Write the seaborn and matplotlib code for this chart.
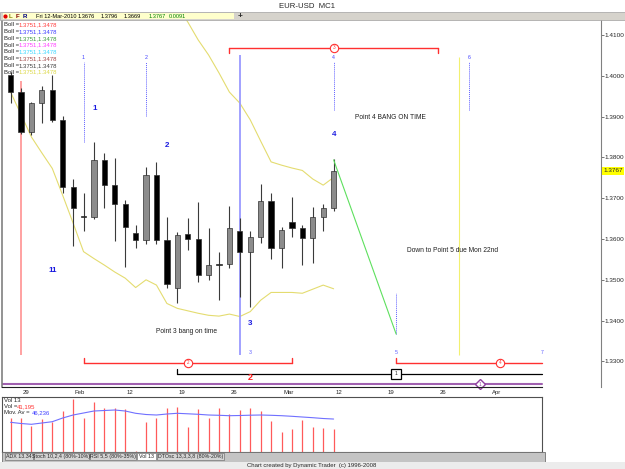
import numpy as np
import pandas as pd
import matplotlib
matplotlib.use("Agg")
import matplotlib.pyplot as plt
import seaborn as sns

sns.set_style("white")
plt.rcParams['font.family'] = ['Liberation Sans Narrow', 'Liberation Sans', 'DejaVu Sans']

W, H = 625, 469

# EUR-USD daily bars, Thu 28-Jan-2010 .. Fri 12-Mar-2010 (bar index 0..31)
opens = [1.4002, 1.3961, 1.3863, 1.3933, 1.3965, 1.3892, 1.3727, 1.3655, 1.3655, 1.3794,
         1.3732, 1.3687, 1.3614, 1.3598, 1.3757, 1.3598, 1.3481, 1.3612, 1.3600, 1.3512,
         1.3537, 1.3538, 1.3620, 1.3567, 1.3606, 1.3693, 1.3577, 1.3641, 1.3628, 1.3602,
         1.3655, 1.3676]
highs = [1.4010, 1.3970, 1.3937, 1.3975, 1.4002, 1.3902, 1.3746, 1.3713, 1.3838, 1.3810,
         1.3799, 1.3696, 1.3634, 1.3777, 1.3788, 1.3655, 1.3616, 1.3651, 1.3691, 1.3626,
         1.3569, 1.3681, 1.3652, 1.3620, 1.3735, 1.3712, 1.3630, 1.3704, 1.3634, 1.3678,
         1.3686, 1.3796]
lows = [1.3933, 1.3857, 1.3855, 1.3885, 1.3886, 1.3713, 1.3584, 1.3620, 1.3648, 1.3675,
        1.3595, 1.3531, 1.3577, 1.3587, 1.3587, 1.3481, 1.3444, 1.3573, 1.3495, 1.3500,
        1.3450, 1.3528, 1.3459, 1.3434, 1.3591, 1.3550, 1.3528, 1.3604, 1.3536, 1.3542,
        1.3620, 1.3669]
closes = [1.3960, 1.3863, 1.3933, 1.3965, 1.3892, 1.3727, 1.3677, 1.3655, 1.3794, 1.3733,
          1.3687, 1.3630, 1.3598, 1.3757, 1.3598, 1.3490, 1.3610, 1.3600, 1.3512, 1.3536,
          1.3538, 1.3626, 1.3567, 1.3606, 1.3693, 1.3577, 1.3622, 1.3628, 1.3602, 1.3655,
          1.3675, 1.3767]

nan = np.nan
boll_upper = [nan] * 15 + [1.4200, 1.4170, 1.4132, 1.4088, 1.4051, 1.4007, 1.3960, 1.3933,
                           1.3892, 1.3840, 1.3789, 1.3781, 1.3774, 1.3768, 1.3747, 1.3732, 1.3751]
boll_lower = [1.3960, 1.3905, 1.3850, 1.3811, 1.3773, 1.3707, 1.3639, 1.3569, 1.3552, 1.3536,
              1.3519, 1.3504, 1.3481, 1.3500, 1.3487, 1.3442, 1.3430, 1.3424, 1.3418, 1.3413,
              1.3411, 1.3416, 1.3410, 1.3422, 1.3450, 1.3469, 1.3469, 1.3469, 1.3467, 1.3477,
              1.3487, 1.3478]

volume = [46930, 46930, 42770, 46250, 44850, 50570, 56650, 46930, 55240, 51810,
          52130, 51290, 29800, 44850, 46620, 51810, 52650, 41940, 51450, 46930,
          51810, 48700, 50930, 51810, 50410, 45370, 39650, 41060, 45730, 41940,
          41420, 41195]
vol_ma = [44540, 43910, 43500, 44170, 44850, 46770, 48330, 49370, 50410, 50670,
          50930, 50410, 49220, 48590, 48330, 48850, 49220, 48960, 48700, 48330,
          48180, 47970, 48070, 48230, 48330, 48180, 47970, 47660, 47290, 46930,
          46510, 46236]

# time axis: Friday bars
fri_idx = [1, 6, 11, 16, 21, 26, 31, 36, 41, 46]
fri_lab = ["29", "Feb", "12", "19", "26", "Mar", "12", "19", "26", "Apr"]
price_ticks = [1.33, 1.34, 1.35, 1.36, 1.37, 1.38, 1.39, 1.40, 1.41]

# annotations (bar index / price)
pink_bar, blue_bar, yellow_bar = 1, 22, 43
dotted_bars = [7, 13, 31, 44]
dotted_bottom = [1.3838, 1.3902, 1.3916, 1.3916]
dotted_top_labels = ["1", "2", "4", "6"]
low_labels = [(23, "3"), (37, "5"), (51, "7")]
dot5_bar, dot5_range = 37, (1.3367, 1.3468)
big_labels = [(8.1, 1.3921, "1"), (15.0, 1.3828, "2"), (23.0, 1.3394, "3"),
              (31.0, 1.3857, "4"), (4.0, 1.3524, "11")]
green_from, green_to = (31, 1.3794), (37, 1.3367)
notes = [(33.05, 1.3897, "Point 4 BANG ON TIME"),
         (38.0, 1.3571, "Down to Point 5 due Mon 22nd"),
         (14.0, 1.3373, "Point 3 bang on time")]
top_cycle = (21, 41, 31, "3")
low_cycle = (7, 27, 17, "2")
right_cycle = (37, 51, 47, "4")
black_start, black_box = 16, 37
purple_diamond = 45
axis_end = 51

df = pd.DataFrame({'open': opens, 'high': highs, 'low': lows, 'close': closes,
                   'upper': boll_upper, 'lower': boll_lower,
                   'vol': volume, 'vol_ma': vol_ma})
df['bar'] = np.arange(len(df))

fig = plt.figure(figsize=(W / 100, H / 100), dpi=100)
fig.patch.set_facecolor('white')


def rect(x0, y0, x1, y1):
    return [x0 / W, 1 - y1 / H, (x1 - x0) / W, (y1 - y0) / H]


ax = fig.add_axes(rect(2, 20, 601, 387))
axv = fig.add_axes(rect(2, 397, 542, 452))
ov = fig.add_axes([0, 0, 1, 1])
ov.set_zorder(5)
ov.patch.set_visible(False)
ov.set_xlim(0, W)
ov.set_ylim(H, 0)
ov.axis('off')


def fy(py):
    # pixel row -> main axes fraction
    return (387 - py) / 367


# ---------------- price panel ----------------
ax.set_xlim(-0.825, 56.66)
ax.set_ylim(1.323725, 1.413676)

up = df['close'] > df['open'] + 0.0001
ax.vlines(df['bar'], df['low'], df['high'], color='#3a3a3a', lw=0.8, zorder=3)
body_lo = np.minimum(df['open'], df['close'])
body_h = np.maximum((df['close'] - df['open']).abs(), 0.00012)
ax.bar(df['bar'], body_h, bottom=body_lo, width=0.5,
       color=np.where(up, '#8c8c8c', 'black'), edgecolor='#303030', lw=0.5, zorder=4)

sns.lineplot(data=df, x='bar', y='upper', ax=ax, color='#e4dc70', lw=0.8, legend=False, zorder=2)
sns.lineplot(data=df, x='bar', y='lower', ax=ax, color='#e4dc70', lw=0.8, legend=False, zorder=2)

bot = ax.get_ylim()[0] + (387 - 355) / 4080
ax.vlines(pink_bar, bot, 1.3987, color='#ff9a9a', lw=1.3, zorder=2.5)
ax.vlines(blue_bar, bot, 1.4051, color='#9a9aff', lw=1.3, zorder=2.5)
ax.vlines(yellow_bar, bot, 1.4046, color='#f2f070', lw=0.8, zorder=2.5)
ax.vlines(dotted_bars, dotted_bottom, 1.4034, color='#6060ff', lw=0.7, ls=(0, (1, 1)), zorder=2.5)
ax.vlines(dot5_bar, dot5_range[0], dot5_range[1], color='#6060ff', lw=0.7, ls=(0, (1, 1)), zorder=2.5)
for b, lab in zip(dotted_bars, dotted_top_labels):
    ax.text(b, 1.4044, lab, color='#4040ff', fontsize=3.8, ha='center', va='center')
for b, lab in low_labels:
    ax.text(b, 1.3323, lab, color='#6060ff', fontsize=3.8, ha='center', va='center')
for bx, by, lab in big_labels:
    ax.text(bx, by, lab, color='#1a1ae0', fontsize=5.8, fontweight='bold', ha='center', va='center')
ax.plot([green_from[0], green_to[0]], [green_from[1], green_to[1]], color='#5ee05e', lw=0.8, zorder=5)
for nx, ny, s in notes:
    ax.text(nx, ny, s, fontsize=4.8, color='#202020', ha='left', va='center')

tr = ax.get_xaxis_transform()


def cycle(c, py, tick_dir):
    x0, x1, xm, lab = c
    ax.plot([x0, x1], [fy(py), fy(py)], transform=tr, color='#ff3030', lw=1.0, clip_on=False)
    ax.plot([x0, x0], [fy(py), fy(py + 5 * tick_dir)], transform=tr, color='#ff3030', lw=1.0)
    if x1 < axis_end:
        ax.plot([x1, x1], [fy(py), fy(py + 5 * tick_dir)], transform=tr, color='#ff3030', lw=1.0)
    ax.plot([xm], [fy(py)], transform=tr, marker='o', ms=6, mfc='white', mec='#ff3030', mew=0.8)
    ax.text(xm, fy(py), lab, transform=tr, fontsize=3.3, color='#ff3030', ha='center', va='center')


cycle(top_cycle, 47.5, 1)
cycle(low_cycle, 362.5, -1)
cycle(right_cycle, 362.5, -1)

ax.plot([black_start, axis_end], [fy(373.5), fy(373.5)], transform=tr, color='black', lw=0.9)
ax.plot([black_start, black_start], [fy(373.5), fy(368.5)], transform=tr, color='black', lw=0.9)
ax.plot([black_box], [fy(373.5)], transform=tr, marker='s', ms=6.5, mfc='white', mec='black', mew=0.9)
ax.text(black_box, fy(373.5), "1", transform=tr, fontsize=3.6, ha='center', va='center')
ax.text(23.0, fy(377), "2", transform=tr, fontsize=6.5, fontweight='bold', color='#ff2020',
        ha='center', va='center')
ax.plot([-0.825, axis_end], [fy(384), fy(384)], transform=tr, color='#a060b0', lw=1.5)
ax.plot([purple_diamond], [fy(384)], transform=tr, marker='D', ms=5.5, mfc='white',
        mec='#9040a0', mew=1.0, clip_on=False)
ax.text(purple_diamond, fy(384), "1", transform=tr, fontsize=3.4, color='#9040a0',
        ha='center', va='center')

ax.yaxis.tick_right()
ax.set_yticks(price_ticks)
ax.set_yticklabels([f"{v:.4f}" for v in price_ticks])
ax.tick_params(axis='y', length=2, width=0.5, pad=0.6, labelsize=4.6, color='#404040')
ax.set_xticks(fri_idx)
ax.tick_params(axis='x', direction='out', length=3, width=0.5, labelbottom=False, color='#404040')
for b, lab in zip(fri_idx, fri_lab):
    ax.text(b + 0.15, fy(392.5), lab, transform=tr, fontsize=4.3, ha='left', va='center',
            clip_on=False)
ax.set_xlabel('')
ax.set_ylabel('')
ax.spines['top'].set_visible(False)
ax.spines['left'].set_color('#808080')
ax.spines['left'].set_linewidth(1.2)
ax.spines['right'].set_color('#808080')
ax.spines['right'].set_linewidth(0.8)
ax.spines['bottom'].set_color('#202020')
ax.spines['bottom'].set_linewidth(0.8)
ax.spines['bottom'].set_bounds(-0.825, axis_end)
ax.text(1.004, closes[-1], f"{closes[-1]:.4f}", transform=ax.get_yaxis_transform(),
        fontsize=4.6, ha='left', va='center', clip_on=False,
        bbox=dict(boxstyle='square,pad=0.2', fc='#ffff00', ec='none'))

# ---------------- volume panel ----------------
axv.set_xlim(-0.825, axis_end)
axv.set_ylim(29100, 57690)
axv.vlines(df['bar'], 29100, df['vol'], color='#ff5a5a', lw=0.9)
sns.lineplot(data=df, x='bar', y='vol_ma', ax=axv, color='#7070ff', lw=0.8, legend=False)
axv.set_xticks([])
axv.set_yticks([])
axv.set_xlabel('')
axv.set_ylabel('')
for s in axv.spines.values():
    s.set_color('#505050')
    s.set_linewidth(0.8)

# ---------------- window chrome ----------------
ov.text(307, 7, "EUR-USD  MC1", fontsize=5.6, ha='center', va='center')
ov.add_patch(plt.Rectangle((0, 12.5), W, 7.5, fc='#d6d3cc', ec='#a0a0a0', lw=0.5))
ov.add_patch(plt.Rectangle((2.5, 13), 231, 6.5, fc='#ffffcc', ec='none'))
ov.plot([4.5], [16.5], marker='o', ms=2, color='#e00000')
for xx, s, c in [(9, "L", '#808000'), (16, "F", '#800000'), (23, "R", '#000080')]:
    ov.text(xx, 16.5, s, fontsize=4.4, color=c, fontweight='bold', va='center')
hdr = [(36, "Fri 12-Mar-2010", 'black'), (78, f"{opens[-1]:.4f}", 'black'),
       (101, f"{highs[-1]:.4f}", 'black'), (124, f"{lows[-1]:.4f}", 'black'),
       (149, f"{closes[-1]:.4f}", '#008000'), (169, "0.0091", '#008000')]
for xx, s, c in hdr:
    ov.text(xx, 16.5, s, fontsize=4.1, color=c, va='center')
ov.text(240, 16.3, "+", fontsize=6, fontweight='bold', ha='center', va='center')

boll_colors = ['#ff3c3c', '#3c3cff', '#3c9a3c', '#ff3cff', '#3cd8ff', '#a04848', '#404040', '#dcd848']
for k, c in enumerate(boll_colors):
    yy = 24.8 + k * 6.75
    ov.text(4, yy, "Boll =", fontsize=4.3, va='center')
    ov.text(19, yy, f"{boll_upper[-1]:.4f},{boll_lower[-1]:.4f}", fontsize=4.3, color=c, va='center')

ov.text(4, 400.5, "Vol 13", fontsize=4.3, va='center')
ov.text(4, 406.5, "Vol =", fontsize=4.3, va='center')
ov.text(16.5, 406.5, f"{volume[-1]:,}", fontsize=4.3, color='#ff3030', va='center')
ov.text(4, 412.5, "Mov. Av =", fontsize=4.3, va='center')
ov.text(31.5, 412.5, f"{vol_ma[-1]:,}", fontsize=4.3, color='#4040ff', va='center')

ov.add_patch(plt.Rectangle((2, 452.5), 543, 9.5, fc='#c4c4c4', ec='#707070', lw=0.6))
tabs = [(5, 33, "ADX 13.34"), (34, 89, "Stoch 10,2,4 (80%-10%)"), (90, 136, "RSI 5,5 (80%-35%)"),
        (137, 156, "Vol 13"), (157, 224, "DTOsc 13,3,3,8 (80%-20%)")]
for x0, x1, s in tabs:
    fc = 'white' if s == "Vol 13" else '#d4d4d4'
    ov.add_patch(plt.Rectangle((x0, 453), x1 - x0, 7.5, fc=fc, ec='#606060', lw=0.4))
    ov.text((x0 + x1) / 2, 456.8, s, fontsize=3.8, ha='center', va='center')
ov.add_patch(plt.Rectangle((0, 462), W, 7, fc='#ececec', ec='none'))
ov.text(312, 465.5, "Chart created by Dynamic Trader  (c) 1996-2008", fontsize=4.3,
        ha='center', va='center')

fig.savefig("out.png", dpi=100)
